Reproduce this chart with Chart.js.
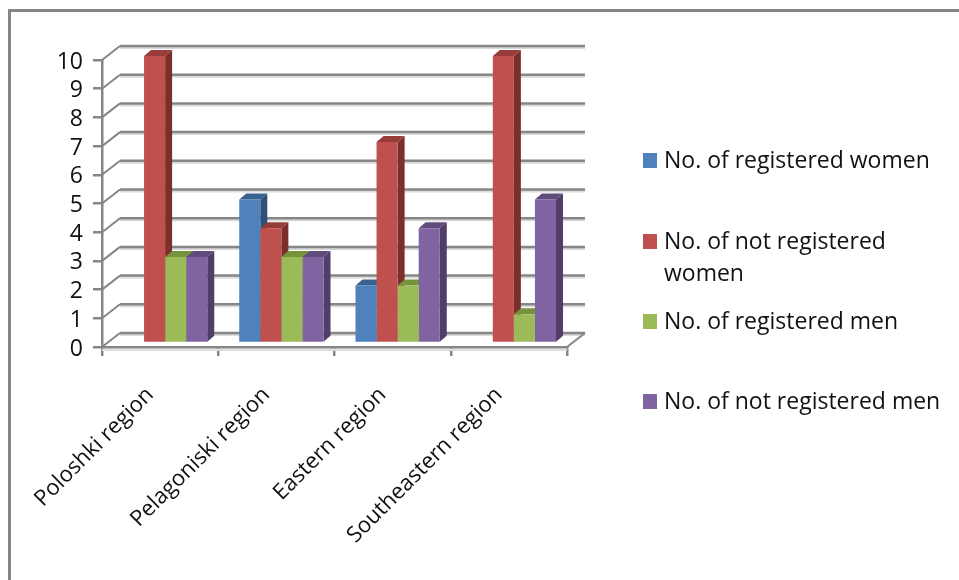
<!DOCTYPE html>
<html>
<head>
<meta charset="utf-8">
<style>
  html, body { margin: 0; padding: 0; background: #fff; }
  #wrap { position: relative; width: 959px; height: 580px; overflow: hidden; }
  #frame { position: absolute; left: 8px; top: 9px; width: 960px; height: 580px; border: 3px solid #868686; box-sizing: border-box; }
  #myChart { position: absolute; left: 0; top: 0; }
  .legend-row { position: absolute; left: 643px; font: 23px/32px "Open Sans", sans-serif; color: #111; width: 310px; white-space: nowrap; }
  .legend-row i { position: absolute; left: 0; top: 9px; width: 14px; height: 15px; }
  .legend-row span { position: absolute; left: 21px; top: -1px; }
</style>
</head>
<body>
<div id="wrap">
  <div id="frame"></div>
  <canvas id="myChart" width="959" height="580"></canvas>
  <div id="legend"></div>
</div>
<script src="https://cdn.jsdelivr.net/npm/chart.js@4"></script>
<script>
// setup
const regions = ['Poloshki region', 'Pelagoniski region', 'Eastern region', 'Southeastern region'];
const registeredWomen = [0, 5, 2, 0];
const notRegisteredWomen = [10, 4, 7, 10];
const registeredMen = [3, 3, 2, 1];
const notRegisteredMen = [3, 3, 4, 5];
const yTicks = [0, 1, 2, 3, 4, 5, 6, 7, 8, 9, 10];

const frontColors = ['#4f81bd', '#c0504d', '#9bbb59', '#8064a2'];
const topColors = ['#3a6291', '#983c3a', '#76923c', '#5f4b7c'];
const sideColors = ['#2f5078', '#7a2f2d', '#5f7630', '#503d68'];

const data = {
  labels: regions,
  datasets: [
    { label: 'No. of registered women', data: registeredWomen, backgroundColor: frontColors[0] },
    { label: 'No. of not registered women', data: notRegisteredWomen, backgroundColor: frontColors[1] },
    { label: 'No. of registered men', data: registeredMen, backgroundColor: frontColors[2] },
    { label: 'No. of not registered men', data: notRegisteredMen, backgroundColor: frontColors[3] }
  ]
};

// how far the back wall sits from the front plane, and where bars stand in between
const wall = { dx: 18, dy: -14 };
const barShift = { dx: 5, dy: -4 };
const barDepth = { dx: 7, dy: -6 };

function line(ctx, x1, y1, x2, y2, color, width) {
  ctx.strokeStyle = color;
  ctx.lineWidth = width;
  ctx.beginPath();
  ctx.moveTo(x1, y1);
  ctx.lineTo(x2, y2);
  ctx.stroke();
}

function face(ctx, points, color) {
  ctx.fillStyle = color;
  ctx.beginPath();
  points.forEach((p, i) => i ? ctx.lineTo(p[0], p[1]) : ctx.moveTo(p[0], p[1]));
  ctx.closePath();
  ctx.fill();
}

// fake 3D: back wall grid and the top/side faces of every bar
const depthPlugin = {
  id: 'depth',
  beforeDatasetsDraw(chart) {
    const { ctx, chartArea: area, scales: { y } } = chart;
    ctx.save();
    yTicks.forEach(tick => {
      const py = y.getPixelForValue(tick);
      line(ctx, area.left + wall.dx, py + wall.dy + 2, area.right + wall.dx, py + wall.dy + 2, '#d9d9d9', 2);
      line(ctx, area.left + wall.dx, py + wall.dy, area.right + wall.dx, py + wall.dy, '#868686', 2.5);
      line(ctx, area.left, py, area.left + wall.dx, py + wall.dy, '#868686', 2);
    });
    const floor = y.getPixelForValue(0);
    line(ctx, area.right, floor, area.right + wall.dx, floor + wall.dy, '#868686', 2);
    line(ctx, area.left, floor + 3, area.right, floor + 3, '#dedede', 2);

    ctx.translate(barShift.dx, barShift.dy);
    regions.forEach((region, i) => {
      data.datasets.forEach((ds, d) => {
        if (!ds.data[i]) return;
        const bar = chart.getDatasetMeta(d).data[i];
        const left = bar.x - bar.width / 2;
        const right = bar.x + bar.width / 2;
        face(ctx, [[right, bar.y], [right + barDepth.dx, bar.y + barDepth.dy], [right + barDepth.dx, bar.base + barDepth.dy], [right, bar.base]], sideColors[d]);
        face(ctx, [[left, bar.y], [left + barDepth.dx, bar.y + barDepth.dy], [right + barDepth.dx, bar.y + barDepth.dy], [right, bar.y]], topColors[d]);
      });
    });
    ctx.restore();
    ctx.save();
    ctx.translate(barShift.dx, barShift.dy);
  },
  afterDatasetsDraw(chart) {
    chart.ctx.restore();
  }
};

// config
const config = {
  type: 'bar',
  data,
  options: {
    responsive: false,
    animation: false,
    layout: { padding: { top: 60, right: 392 } },
    plugins: { legend: { display: false }, tooltip: { enabled: false } },
    datasets: { bar: { categoryPercentage: 0.725, barPercentage: 1 } },
    scales: {
      x: {
        afterFit(scale) { scale.height = 233; },
        grid: { drawOnChartArea: false, color: '#868686', lineWidth: 2.5, tickLength: 9 },
        border: { color: '#868686', width: 2.5 },
        ticks: {
          color: '#111',
          minRotation: 45,
          maxRotation: 45,
          padding: 26,
          labelOffset: -10,
          font: { family: '"Open Sans", sans-serif', size: 22 }
        }
      },
      y: {
        min: 0,
        max: 10,
        afterFit(scale) { scale.width = 102; },
        grid: { drawOnChartArea: false, color: '#868686', lineWidth: 2.5, tickLength: 9 },
        border: { color: '#868686', width: 2.5 },
        afterBuildTicks(scale) { scale.ticks = yTicks.map(value => ({ value })); },
        ticks: {
          color: '#111',
          padding: 10,
          autoSkip: false,
          labelOffset: 2,
          font: { family: '"Open Sans", sans-serif', size: 23 }
        }
      }
    }
  },
  plugins: [depthPlugin]
};

// render init block
const myChart = new Chart(document.getElementById('myChart'), config);

// legend rows are spaced evenly by centre, so the two-line entry eats into its gap
const legendLines = [['No. of registered women'], ['No. of not registered', 'women'], ['No. of registered men'], ['No. of not registered men']];
const legendTops = [144, 225, 305, 385];
const legend = document.getElementById('legend');
legendLines.forEach((lines, i) => {
  const row = document.createElement('div');
  row.className = 'legend-row';
  row.style.top = legendTops[i] + 'px';
  row.innerHTML = '<i style="background:' + frontColors[i] + '"></i><span>' + lines.join('<br>') + '</span>';
  legend.appendChild(row);
});
</script>
</body>
</html>
